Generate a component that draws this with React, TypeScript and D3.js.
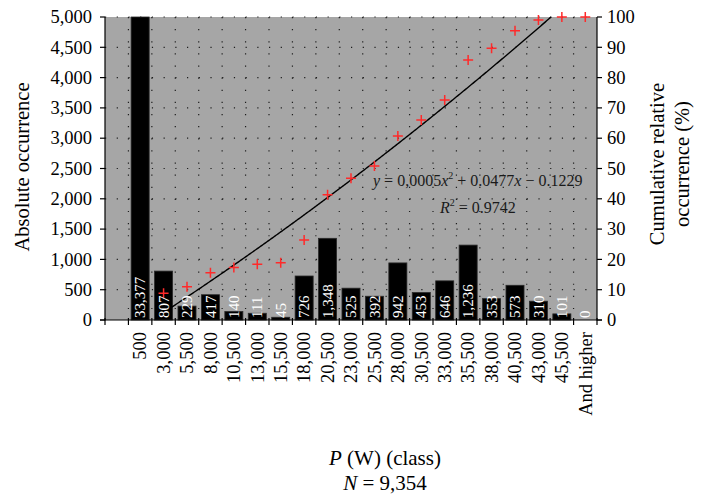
import React, { useEffect, useRef } from "react";
import * as d3 from "d3";

// Power classes (first slot is an unlabelled empty class)
const categories = [
    "", "500", "3,000", "5,500", "8,000", "10,500", "13,000", "15,500", "18,000",
    "20,500", "23,000", "25,500", "28,000", "30,500", "33,000", "35,500",
    "38,000", "40,500", "43,000", "45,500", "And higher",
];
// Absolute occurrence per class
const counts: (number | null)[] = [
    null, 33377, 807, 229, 417, 140, 111, 45, 726, 1348, 525, 392, 942, 453,
    646, 1236, 353, 573, 310, 101, 0,
];
// Cumulative relative occurrence (%)
const cumulative: (number | null)[] = [
    null, null, 8.8, 11, 15.6, 17.3, 18.4, 18.9, 26.4, 41.3, 46.8, 50.8, 60.7,
    66, 72.6, 85.8, 89.7, 95.5, 99, 100, 100,
];
const leftTicks = [0, 500, 1000, 1500, 2000, 2500, 3000, 3500, 4000, 4500, 5000];
const rightTicks = [0, 10, 20, 30, 40, 50, 60, 70, 80, 90, 100];
// Polynomial trendline y = a x^2 + b x + c (fraction), x = class number
const trendCoef = [0.0005, 0.0477, -0.1229];
const trendRange = [3.35, 19.6];

const W = 701;
const H = 500;
const FONT = "Liberation Serif, DejaVu Serif, serif";

const App = () => {
    const svgRef = useRef<SVGSVGElement>(null);

    useEffect(() => {
        if (!svgRef.current) return;
        const svg = d3.select(svgRef.current);
        svg.selectAll("*").remove();

        const margin = { top: 17, right: 104, bottom: 180, left: 105 };
        const x0 = margin.left;
        const x1 = W - margin.right;
        const y0 = H - margin.bottom;
        const y1 = margin.top;

        const xScale = d3.scaleBand<number>()
            .domain(d3.range(categories.length))
            .range([x0, x1])
            .paddingInner(0.23)
            .paddingOuter(0.115);
        const step = xScale.step();
        const centre = (i: number) => (xScale(i) as number) + xScale.bandwidth() / 2;

        const yLeft = d3.scaleLinear().domain([0, 5000]).range([y0, y1]).clamp(true);
        const yRight = d3.scaleLinear().domain([0, 100]).range([y0, y1]).clamp(true);
        const xTrend = d3.scaleLinear()
            .domain([1, categories.length])
            .range([centre(0), centre(categories.length - 1)]);

        // ── Plot background ────────────────────────────────────────────
        svg.append("rect")
            .attr("x", x0).attr("y", y1)
            .attr("width", x1 - x0).attr("height", y0 - y1)
            .attr("fill", "#a6a6a6");

        // ── Dotted grid ────────────────────────────────────────────────
        const grid = svg.append("g")
            .attr("stroke", "#1e1e1e")
            .attr("stroke-width", 1.2);
        leftTicks.filter(t => t > 0).forEach(t => {
            grid.append("line")
                .attr("x1", x0).attr("x2", x1)
                .attr("y1", yLeft(t)).attr("y2", yLeft(t))
                .attr("stroke-dasharray", `1.2 ${step / 2 - 1.2}`);
        });
        d3.range(1, categories.length).forEach(k => {
            const gx = x0 + k * step;
            grid.append("line")
                .attr("x1", gx).attr("x2", gx)
                .attr("y1", y1).attr("y2", y0)
                .attr("stroke-dasharray", `1.2 ${(y0 - y1) / 25 - 1.2}`);
        });

        // ── Bars ───────────────────────────────────────────────────────
        counts.forEach((v, i) => {
            if (v == null) return;
            svg.append("rect")
                .attr("x", xScale(i) as number)
                .attr("y", yLeft(v))
                .attr("width", xScale.bandwidth())
                .attr("height", y0 - yLeft(v))
                .attr("fill", "#000")
                .attr("stroke", "#2a2a2a")
                .attr("stroke-width", 0.8);
        });

        // ── Trendline ──────────────────────────────────────────────────
        const [a, b, c] = trendCoef;
        const tx = d3.range(trendRange[0], trendRange[1], 0.05);
        const line = d3.line<number>()
            .x(t => xTrend(t))
            .y(t => yRight((a * t * t + b * t + c) * 100));
        svg.append("path")
            .datum(tx.filter(t => (a * t * t + b * t + c) * 100 <= 100.2))
            .attr("d", line)
            .attr("fill", "none")
            .attr("stroke", "#000")
            .attr("stroke-width", 1.4);

        // ── Cumulative markers ─────────────────────────────────────────
        cumulative.forEach((v, i) => {
            if (v == null) return;
            const cx = centre(i);
            const cy = yRight(v);
            svg.append("path")
                .attr("d", `M${cx - 5},${cy}H${cx + 5}M${cx},${cy - 5}V${cy + 5}`)
                .attr("stroke", "#ff2a2a")
                .attr("stroke-width", 1.5)
                .attr("fill", "none");
        });

        // ── Bar value labels ───────────────────────────────────────────
        counts.forEach((v, i) => {
            if (v == null) return;
            svg.append("text")
                .attr("transform", `translate(${centre(i)},${y0 - 2}) rotate(-90)`)
                .attr("dy", "0.34em")
                .attr("text-anchor", "start")
                .attr("font-family", FONT)
                .attr("font-size", "15px")
                .attr("fill", "#fff")
                .text(d3.format(",")(v));
        });

        // ── Axes ───────────────────────────────────────────────────────
        const axes = svg.append("g").attr("stroke", "#000").attr("stroke-width", 1.2);
        axes.append("line").attr("x1", x0).attr("x2", x0).attr("y1", y1).attr("y2", y0 + 0.6);
        axes.append("line").attr("x1", x1).attr("x2", x1).attr("y1", y1).attr("y2", y0 + 0.6);
        axes.append("line").attr("x1", x0 - 5).attr("x2", x1 + 5).attr("y1", y0).attr("y2", y0);

        leftTicks.forEach(t => {
            axes.append("line")
                .attr("x1", x0 - 5).attr("x2", x0)
                .attr("y1", yLeft(t)).attr("y2", yLeft(t));
            svg.append("text")
                .attr("x", x0 - 13).attr("y", yLeft(t))
                .attr("dy", "0.34em")
                .attr("text-anchor", "end")
                .attr("font-family", FONT)
                .attr("font-size", "18.5px")
                .attr("fill", "#000")
                .text(d3.format(",")(t));
        });
        rightTicks.forEach(t => {
            axes.append("line")
                .attr("x1", x1).attr("x2", x1 + 5)
                .attr("y1", yRight(t)).attr("y2", yRight(t));
            svg.append("text")
                .attr("x", x1 + 10).attr("y", yRight(t))
                .attr("dy", "0.34em")
                .attr("text-anchor", "start")
                .attr("font-family", FONT)
                .attr("font-size", "18.5px")
                .attr("fill", "#000")
                .text(t);
        });
        d3.range(categories.length + 1).forEach(k => {
            const gx = x0 + k * step;
            axes.append("line")
                .attr("x1", gx).attr("x2", gx)
                .attr("y1", y0 - 2).attr("y2", y0 + 5);
        });
        categories.forEach((lab, i) => {
            svg.append("text")
                .attr("transform", `translate(${centre(i)},${y0 + 12}) rotate(-90)`)
                .attr("dy", "0.34em")
                .attr("text-anchor", "end")
                .attr("font-family", FONT)
                .attr("font-size", "18.5px")
                .attr("fill", "#000")
                .text(lab);
        });

        // ── Axis titles ────────────────────────────────────────────────
        svg.append("text")
            .attr("transform", `translate(29,167) rotate(-90)`)
            .attr("text-anchor", "middle")
            .attr("font-family", FONT)
            .attr("font-size", "20.5px")
            .attr("fill", "#000")
            .text("Absolute occurrence");
        svg.append("text")
            .attr("transform", `translate(664,164) rotate(-90)`)
            .attr("text-anchor", "middle")
            .attr("font-family", FONT)
            .attr("font-size", "20.5px")
            .attr("fill", "#000")
            .text("Cumulative relative");
        svg.append("text")
            .attr("transform", `translate(689,164) rotate(-90)`)
            .attr("text-anchor", "middle")
            .attr("font-family", FONT)
            .attr("font-size", "20.5px")
            .attr("fill", "#000")
            .text("occurrence (%)");

        const xt = svg.append("text")
            .attr("x", 385).attr("y", 465)
            .attr("text-anchor", "middle")
            .attr("font-family", FONT)
            .attr("font-size", "21px")
            .attr("fill", "#000");
        xt.append("tspan").attr("font-style", "italic").text("P");
        xt.append("tspan").text(" (W) (class)");

        const nt = svg.append("text")
            .attr("x", 385).attr("y", 490)
            .attr("text-anchor", "middle")
            .attr("font-family", FONT)
            .attr("font-size", "21px")
            .attr("fill", "#000");
        nt.append("tspan").attr("font-style", "italic").text("N");
        nt.append("tspan").text(" = 9,354");

        // ── Trendline equation ─────────────────────────────────────────
        const eq = svg.append("text")
            .attr("x", 373).attr("y", 185.5)
            .attr("font-family", FONT)
            .attr("font-size", "16px")
            .attr("fill", "#1a1a1a");
        eq.append("tspan").attr("font-style", "italic").text("y");
        eq.append("tspan").text(" = 0,0005");
        eq.append("tspan").attr("font-style", "italic").text("x");
        eq.append("tspan").attr("font-size", "10px").attr("dy", "-7").text("2");
        eq.append("tspan").attr("dy", "7").text(" + 0.0477");
        eq.append("tspan").attr("font-style", "italic").text("x");
        eq.append("tspan").text(" \u2212 0.1229");

        const r2 = svg.append("text")
            .attr("x", 440).attr("y", 213)
            .attr("font-family", FONT)
            .attr("font-size", "16px")
            .attr("fill", "#1a1a1a");
        r2.append("tspan").attr("font-style", "italic").text("R");
        r2.append("tspan").attr("font-size", "10px").attr("dy", "-7").text("2");
        r2.append("tspan").attr("dy", "7").text(" = 0.9742");
    }, []);

    return (
        <svg
            ref={svgRef}
            width={W}
            height={H}
            style={{ position: "absolute", left: 0, top: 0, background: "#fff" }}
        />
    );
};

export default App;
